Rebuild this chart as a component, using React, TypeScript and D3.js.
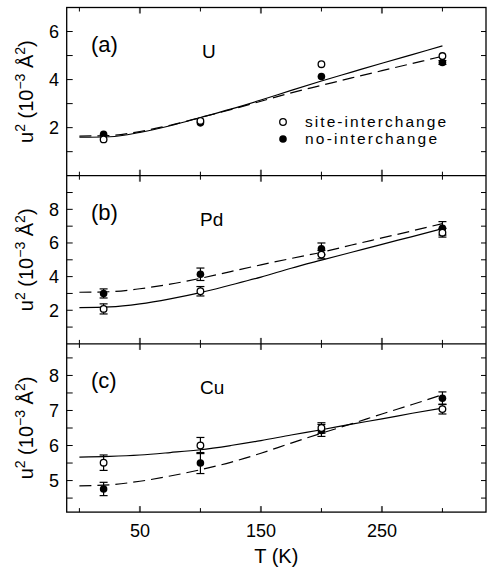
import * as d3 from "d3";

// fit curves
const fitT = [0, 25, 50, 75, 100, 125, 150, 175, 200, 225, 250, 275, 300];
const fitA_site = [1.6, 1.62, 1.8, 2.08, 2.42, 2.77, 3.15, 3.55, 3.94, 4.31, 4.68, 5.04, 5.4];
const fitA_no = [1.65, 1.67, 1.84, 2.1, 2.42, 2.75, 3.1, 3.45, 3.76, 4.07, 4.37, 4.67, 4.97];
const fitB_site = [2.16, 2.2, 2.38, 2.68, 3.05, 3.5, 3.97, 4.5, 4.98, 5.45, 5.92, 6.38, 6.85];
const fitB_no = [3.07, 3.1, 3.28, 3.55, 3.9, 4.3, 4.7, 5.08, 5.45, 5.88, 6.3, 6.72, 7.15];
const fitC_site = [5.67, 5.69, 5.73, 5.8, 5.88, 6.0, 6.14, 6.3, 6.45, 6.61, 6.76, 6.92, 7.07];
const fitC_no = [4.85, 4.88, 4.98, 5.13, 5.31, 5.52, 5.78, 6.07, 6.35, 6.62, 6.9, 7.17, 7.45];

// measured points
const dataT = [20, 100, 200, 300];
const a_site = [1.51, 2.28, 4.64, 4.98];
const a_no = [1.72, 2.2, 4.13, 4.71];
const a_siteErr = [0, 0, 0, 0];
const a_noErr = [0, 0, 0, 0.08];
const b_site = [2.08, 3.13, 5.31, 6.61];
const b_siteErr = [0.3, 0.28, 0.25, 0.26];
const b_no = [3.0, 4.14, 5.65, 6.87];
const b_noErr = [0.27, 0.37, 0.35, 0.4];
const c_site = [5.51, 6.0, 6.5, 7.04];
const c_siteErr = [0.22, 0.23, 0.15, 0.14];
const c_no = [4.76, 5.5, 6.43, 7.35];
const c_noErr = [0.19, 0.3, 0.17, 0.18];

const xMajor = [50, 150, 250];
const xMinor = [0, 100, 200, 300];

const panels = [
  { tag: "(a)", elem: "U", domain: [0, 7], major: [2, 4, 6], minor: [1, 3, 5],
    fitSite: fitA_site, fitNo: fitA_no, site: a_site, siteErr: a_siteErr, no: a_no, noErr: a_noErr },
  { tag: "(b)", elem: "Pd", domain: [0, 10], major: [2, 4, 6, 8], minor: [1, 3, 5, 7, 9],
    fitSite: fitB_site, fitNo: fitB_no, site: b_site, siteErr: b_siteErr, no: b_no, noErr: b_noErr },
  { tag: "(c)", elem: "Cu", domain: [4.1, 8.9], major: [5, 6, 7, 8], minor: [4.5, 5.5, 6.5, 7.5, 8.5],
    fitSite: fitC_site, fitNo: fitC_no, site: c_site, siteErr: c_siteErr, no: c_no, noErr: c_noErr },
];

const W = 487, H = 571;
const left = 66.7, right = 486, top0 = 7.5, ph = 168.2;
const font = "'Liberation Sans', Arial, sans-serif";

export default function App() {
  const x = d3.scaleLinear().domain([-10.5, 336]).range([left, right]);

  return (
    <svg width={W} height={H} style={{ position: "absolute", left: 0, top: 0 }} fontFamily={font}>
      <rect width={W} height={H} fill="#fff" />
      {panels.map((p, i) => {
        const y0 = top0 + i * ph;
        const y = d3.scaleLinear().domain(p.domain).range([y0 + ph, y0]);
        const line = d3
          .line<number>()
          .x((_, k) => x(fitT[k]))
          .y((v) => y(v))
          .curve(d3.curveMonotoneX);
        const isLast = i === panels.length - 1;
        const cy = y0 + ph / 2;
        const errBars = (vals: number[], errs: number[], key: string) =>
          vals.map((v, k) =>
            errs[k] > 0 ? (
              <g key={key + k} stroke="#000" strokeWidth={1.2}>
                <line x1={x(dataT[k])} x2={x(dataT[k])} y1={y(v - errs[k])} y2={y(v + errs[k])} />
                <line x1={x(dataT[k]) - 4} x2={x(dataT[k]) + 4} y1={y(v - errs[k])} y2={y(v - errs[k])} />
                <line x1={x(dataT[k]) - 4} x2={x(dataT[k]) + 4} y1={y(v + errs[k])} y2={y(v + errs[k])} />
              </g>
            ) : null
          );
        return (
          <g key={p.tag}>
            {/* y ticks both sides */}
            {[...p.major, ...p.minor].map((t) => (
              <g key={"yt" + t} stroke="#000" strokeWidth={1}>
                <line x1={left} x2={left + 6} y1={y(t)} y2={y(t)} />
                <line x1={right} x2={right - 5} y1={y(t)} y2={y(t)} />
              </g>
            ))}
            {p.major.map((t) => (
              <text key={"yl" + t} x={59} y={y(t)} dy="0.36em" textAnchor="end" fontSize={18}>
                {t}
              </text>
            ))}
            {/* x ticks at top & bottom of panel */}
            {xMajor.map((t) => (
              <g key={"xM" + t} stroke="#555" strokeWidth={2}>
                <line x1={x(t)} x2={x(t)} y1={y0} y2={y0 + 6} />
                <line x1={x(t)} x2={x(t)} y1={y0 + ph} y2={y0 + ph - 6} />
              </g>
            ))}
            {xMinor.map((t) => (
              <g key={"xm" + t} stroke="#000" strokeWidth={1}>
                <line x1={x(t)} x2={x(t)} y1={y0} y2={y0 + 4} />
                <line x1={x(t)} x2={x(t)} y1={y0 + ph} y2={y0 + ph - 4} />
              </g>
            ))}
            {/* fits */}
            <path d={line(p.fitSite) ?? ""} fill="none" stroke="#000" strokeWidth={1.2} />
            <path d={line(p.fitNo) ?? ""} fill="none" stroke="#000" strokeWidth={1.2} strokeDasharray="12,6" />
            {errBars(p.site, p.siteErr, "es")}
            {errBars(p.no, p.noErr, "en")}
            {p.no.map((v, k) => (
              <circle key={"n" + k} cx={x(dataT[k])} cy={y(v)} r={3.8} fill="#000" />
            ))}
            {p.site.map((v, k) => (
              <circle key={"s" + k} cx={x(dataT[k])} cy={y(v)} r={3.3} fill="#fff" stroke="#000" strokeWidth={1.3} />
            ))}
            <text x={91} y={y0 + 44} fontSize={22}>{p.tag}</text>
            <text x={i === 0 ? 202 : 200} y={y0 + 50} fontSize={19}>{p.elem}</text>
            <text
              transform={`translate(26,${cy}) rotate(-90)`}
              textAnchor="middle"
              dy="0.36em"
              fontSize={20}
            >
              u<tspan dy={-8} fontSize={14}>2</tspan>
              <tspan dy={8}>  (10</tspan>
              <tspan dy={-8} fontSize={14}>−3</tspan>
              <tspan dy={8}> Å</tspan>
              <tspan dy={-8} fontSize={14}>2</tspan>
              <tspan dy={8}>)</tspan>
            </text>
            {isLast &&
              xMajor.map((t) => (
                <text key={"xl" + t} x={x(t)} y={537} textAnchor="middle" fontSize={18}>
                  {t}
                </text>
              ))}
          </g>
        );
      })}
      {/* frame */}
      <rect x={left} y={top0} width={right - left} height={ph * 3} fill="none" stroke="#000" strokeWidth={1.3} />
      {[1, 2].map((k) => (
        <line key={k} x1={left} x2={right} y1={top0 + k * ph} y2={top0 + k * ph} stroke="#000" strokeWidth={1.3} />
      ))}
      <text x={(left + right) / 2} y={563} textAnchor="middle" fontSize={20}>T  (K)</text>
      {/* legend */}
      <circle cx={283} cy={122} r={3.3} fill="#fff" stroke="#000" strokeWidth={1.3} />
      <circle cx={283} cy={139} r={3.8} fill="#000" />
      <text x={305} y={127} fontSize={15.5} textLength={141} lengthAdjust="spacing">site-interchange</text>
      <text x={305} y={144} fontSize={15.5} textLength={132} lengthAdjust="spacing">no-interchange</text>
    </svg>
  );
}
